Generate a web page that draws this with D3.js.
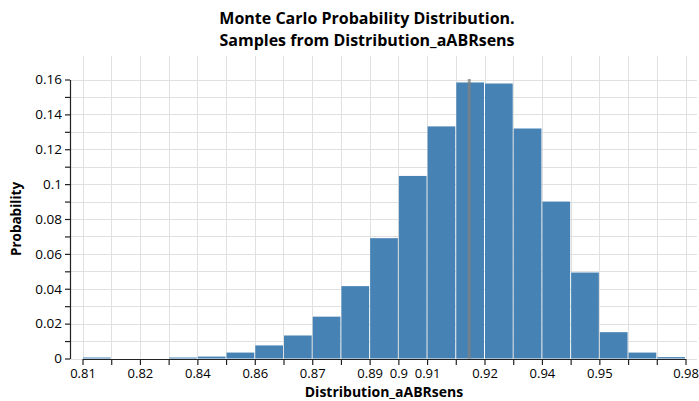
<!DOCTYPE html>
<html>
<head>
<meta charset="utf-8">
<script src="https://cdn.jsdelivr.net/npm/d3@7"></script>
<style>
  html, body { margin: 0; padding: 0; background: #fff; }
  svg { display: block; }
  text { font-family: "Open Sans", "Noto Sans", sans-serif; fill: #000; }
</style>
</head>
<body>
<svg id="chart" width="699" height="401"></svg>
<script>
// Histogram bin edges (21 bins) of the sampled values
const binEdges = [0.8086, 0.8167, 0.8248, 0.8329, 0.8410, 0.8491, 0.8572, 0.8653,
                  0.8734, 0.8815, 0.8896, 0.8977, 0.9058, 0.9139, 0.9220, 0.9301,
                  0.9382, 0.9463, 0.9544, 0.9625, 0.9706, 0.9787];

// Probability of each bin
const probabilities = [0.0005, 0, 0, 0.0004, 0.0011, 0.0034, 0.0075, 0.0132,
                       0.0240, 0.0415, 0.0690, 0.1047, 0.1331, 0.1583, 0.1577,
                       0.1319, 0.0900, 0.0493, 0.0151, 0.0034, 0.0008];

// Mean of the samples (vertical rule)
const meanValue = 0.9177;

// Bin edges that carry a tick label
const labeledEdges = [0, 2, 4, 6, 8, 10, 11, 12, 14, 16, 18, 21];

// y axis ticks: minor every 0.01, labelled every 0.02
const yTicks = [0, 0.01, 0.02, 0.03, 0.04, 0.05, 0.06, 0.07, 0.08,
                0.09, 0.1, 0.11, 0.12, 0.13, 0.14, 0.15, 0.16];
const yLabelled = [0, 0.02, 0.04, 0.06, 0.08, 0.1, 0.12, 0.14, 0.16];

const titleLines = ["Monte Carlo Probability Distribution.", "Samples from Distribution_aABRsens"];
const xTitle = "Distribution_aABRsens";
const yTitle = "Probability";

const bins = probabilities.map((p, i) => ({ x0: binEdges[i], x1: binEdges[i + 1], p }));

const svg = d3.select("#chart");

const plotLeft = 70, plotRight = 697;
const x = d3.scaleLinear()
  .domain([binEdges[0], binEdges[binEdges.length - 1]])
  .range([82.5, 685.5]);
const y = d3.scaleLinear()
  .domain([0, 0.16])
  .range([358.5, 79.5]);

const gridColor = "#e0e0e0";
const fmt = d3.format(".2~f");

// Grid
const grid = svg.append("g");
grid.selectAll("line.h").data(yTicks).join("line")
  .attr("x1", plotLeft).attr("x2", plotRight)
  .attr("y1", d => Math.round(y(d)) + 0.5).attr("y2", d => Math.round(y(d)) + 0.5)
  .attr("stroke", gridColor).attr("stroke-width", 1);
grid.selectAll("line.v").data(binEdges).join("line")
  .attr("x1", d => Math.round(x(d)) + 0.5).attr("x2", d => Math.round(x(d)) + 0.5)
  .attr("y1", 56).attr("y2", y(0))
  .attr("stroke", gridColor).attr("stroke-width", 1);

// x axis: a tick at every bin edge, labels on a subset
const xAxis = d3.axisBottom(x)
  .tickValues(binEdges)
  .tickSize(6)
  .tickSizeOuter(0)
  .tickFormat((d, i) => labeledEdges.includes(i) ? fmt(d) : "");
const gx = svg.append("g")
  .attr("transform", `translate(0,${Math.round(y(0))})`)
  .call(xAxis);
gx.select(".domain").attr("stroke", "#222").attr("stroke-width", 1.2);
gx.selectAll(".tick line").attr("stroke", "#222").attr("stroke-width", 1.2);
gx.selectAll(".tick text").filter(function () { return this.textContent === ""; }).remove();
gx.selectAll(".tick text").attr("font-size", 13).attr("dy", "0.8em").attr("fill", "#000");

// y axis
const yAxis = d3.axisLeft(y)
  .tickValues(yTicks)
  .tickSize(5)
  .tickSizeOuter(0)
  .tickFormat(d => yLabelled.some(v => Math.abs(v - d) < 1e-9) ? d3.format("~g")(d) : "");
const gy = svg.append("g")
  .attr("transform", `translate(${plotLeft},0)`)
  .call(yAxis);
gy.select(".domain").attr("stroke", "#222").attr("stroke-width", 1.2);
gy.selectAll(".tick line").attr("stroke", "#222").attr("stroke-width", 1.2);
gy.selectAll(".tick text").filter(function () { return this.textContent === ""; }).remove();
gy.selectAll(".tick text").attr("font-size", 13.5).attr("x", -8).attr("fill", "#000");

// Bars
svg.append("g").selectAll("rect").data(bins).join("rect")
  .attr("x", d => x(d.x0) + 0.5)
  .attr("width", d => Math.max(0, x(d.x1) - x(d.x0) - 1))
  .attr("y", d => Math.min(y(d.p), y(0) - 1))
  .attr("height", d => d.p > 0 ? Math.max(1, y(0) - y(d.p)) : 0)
  .attr("fill", "#4682b4");

// Mean rule
svg.append("line")
  .attr("x1", x(meanValue)).attr("x2", x(meanValue))
  .attr("y1", y(0.16) - 0.5).attr("y2", y(0))
  .attr("stroke", "#808080").attr("stroke-opacity", 0.75).attr("stroke-width", 3);

// Two-line title
svg.append("text")
  .attr("x", 367).attr("y", 24)
  .attr("text-anchor", "middle")
  .attr("font-size", 16).attr("font-weight", "bold")
  .text(titleLines[0]);
svg.append("text")
  .attr("x", 367).attr("y", 46)
  .attr("text-anchor", "middle")
  .attr("font-size", 16).attr("font-weight", "bold")
  .text(titleLines[1]);

svg.append("text")
  .attr("x", (x.range()[0] + x.range()[1]) / 2).attr("y", 397)
  .attr("text-anchor", "middle")
  .attr("font-size", 14).attr("font-weight", "bold")
  .text(xTitle);

svg.append("text")
  .attr("transform", `translate(21,${(y(0) + y(0.16)) / 2}) rotate(-90)`)
  .attr("text-anchor", "middle")
  .attr("font-size", 13.5).attr("font-weight", "bold")
  .text(yTitle);
</script>
</body>
</html>
